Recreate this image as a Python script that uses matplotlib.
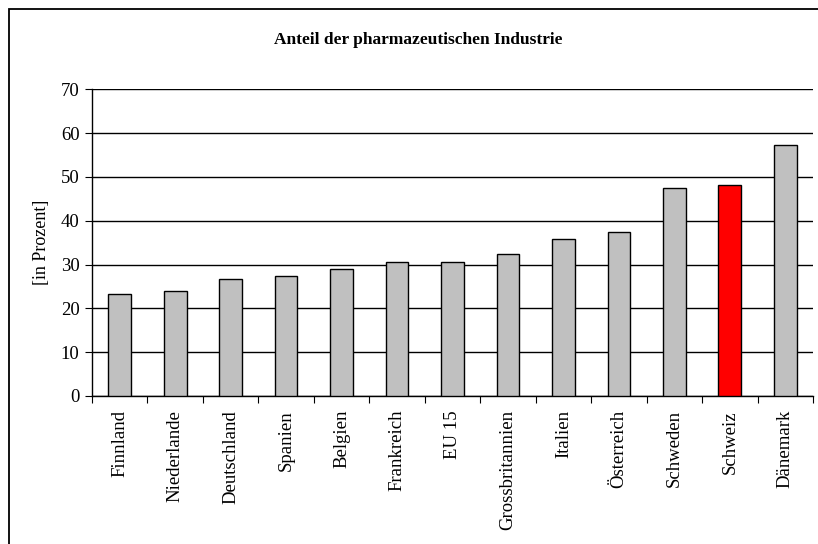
import matplotlib
matplotlib.use("Agg")
import matplotlib.pyplot as plt
from matplotlib.patches import Rectangle

laender = ["Finnland", "Niederlande", "Deutschland", "Spanien", "Belgien",
           "Frankreich", "EU 15", "Grossbritannien", "Italien", "Österreich",
           "Schweden", "Schweiz", "Dänemark"]
anteil = [23.2, 23.9, 26.7, 27.4, 29.0, 30.6, 30.6, 32.3, 35.8, 37.4, 47.4, 48.1, 57.4]
farben = ["#c0c0c0"] * 11 + ["#ff0000", "#c0c0c0"]

plt.rcParams["font.family"] = ["Liberation Serif", "DejaVu Serif"]

fig = plt.figure(figsize=(8.18, 5.44), dpi=100)
ax = fig.add_axes([92 / 818, 1 - 396 / 544, 721 / 818, (396 - 89.3) / 544])

x = range(len(laender))
ax.bar(x, anteil, width=0.41, color=farben, edgecolor="black", linewidth=1.0, zorder=3)

ax.set_xlim(-0.5, len(laender) - 0.5)
ax.set_ylim(0, 70)
ax.set_yticks(range(0, 71, 10))
ax.yaxis.grid(True, color="black", linewidth=1.0, zorder=0)
ax.set_axisbelow(True)

ax.set_xticks([i + 0.5 for i in range(-1, len(laender))], minor=False)
ax.set_xticklabels([])
ax.set_xticks(list(x), minor=True)
ax.set_xticklabels(laender, minor=True, rotation=90, fontsize=13.5, va="top")
ax.tick_params(axis="x", which="minor", length=0, pad=10)
ax.tick_params(axis="x", which="major", length=5, direction="out", width=0.8)
ax.tick_params(axis="y", length=5, direction="out", width=0.8, labelsize=13.5, pad=4)

for s in ["top", "right"]:
    ax.spines[s].set_visible(False)
ax.spines["left"].set_linewidth(1.0)
ax.spines["bottom"].set_linewidth(1.0)

ax.set_ylabel("[in Prozent]", fontsize=13)
ax.yaxis.set_label_coords(-42 / 721, 0.5)
fig.text(418 / 818, 1 - 40 / 544, "Anteil der pharmazeutischen Industrie",
         ha="center", va="center", fontsize=12.5, fontweight="bold")

# Rahmen um das Diagramm
fig.patches.append(Rectangle((9 / 818, -0.1), 1.1, 1 - 9 / 544 + 0.1, transform=fig.transFigure,
                             fill=False, edgecolor="black", linewidth=1.3))

fig.savefig("out.png", dpi=100)
